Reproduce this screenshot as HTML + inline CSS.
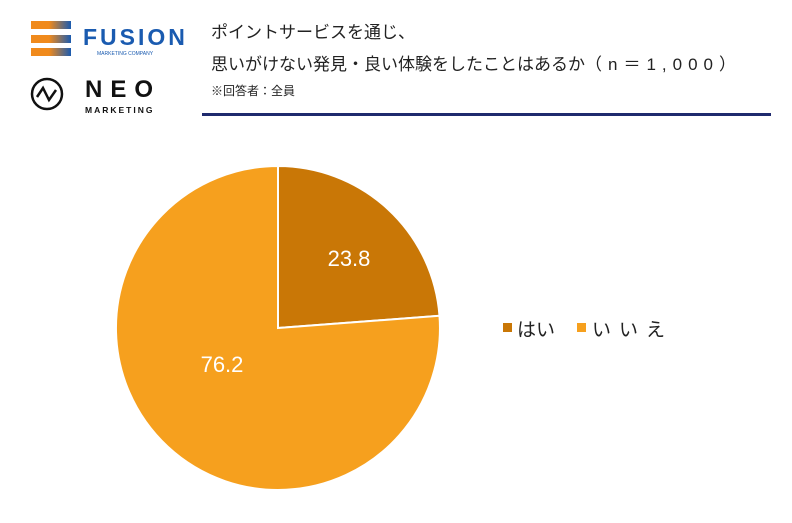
<!DOCTYPE html>
<html><head><meta charset="utf-8"><style>
body{margin:0;width:792px;height:523px;background:#fff;overflow:hidden;font-family:"Liberation Sans","Noto Sans CJK JP",sans-serif;}
.t{position:absolute;color:#222;white-space:nowrap;}
</style></head><body>
<svg width="792" height="523" style="position:absolute;left:0;top:0">
<defs><linearGradient id="g" x1="0" x2="1"><stop offset="0" stop-color="#f08a1c"/><stop offset="0.45" stop-color="#f08a1c"/><stop offset="1" stop-color="#1a5bb0"/></linearGradient></defs>
<rect x="31" y="21" width="40" height="8" fill="url(#g)"/>
<rect x="31" y="35" width="40" height="8" fill="url(#g)"/>
<rect x="31" y="48" width="40" height="8" fill="url(#g)"/>
<text x="83" y="45" font-family="Liberation Sans" font-weight="bold" font-size="23" fill="#1a5bb0" letter-spacing="3">FUSION</text>
<text x="97" y="55" font-family="Liberation Sans" font-size="5" fill="#1a5bb0">MARKETING COMPANY</text>
<circle cx="47" cy="94" r="15" fill="none" stroke="#111" stroke-width="2.5"/>
<polyline points="37,97 43,88 49,100 56,90" fill="none" stroke="#111" stroke-width="2.5"/>
<text x="85" y="97" font-family="Liberation Sans" font-weight="bold" font-size="24" fill="#111" letter-spacing="8">NEO</text>
<text x="85" y="113" font-family="Liberation Sans" font-weight="bold" font-size="8.5" fill="#111" letter-spacing="2">MARKETING</text>
<rect x="202" y="113" width="569" height="3" fill="#1f2a6e"/>
<path d="M278,328 L278,166 A162,162 0 0 1 439.5,315.8 Z" fill="#c97706" stroke="#fff" stroke-width="2"/>
<path d="M278,328 L439.5,315.8 A162,162 0 1 1 278,166 Z" fill="#f6a01e" stroke="#fff" stroke-width="2"/>
<text x="349" y="266" text-anchor="middle" font-size="22" fill="#fff" font-family="Liberation Sans">23.8</text>
<text x="222" y="372" text-anchor="middle" font-size="22" fill="#fff" font-family="Liberation Sans">76.2</text>
<rect x="503" y="323" width="9" height="9" fill="#c97706"/>
<rect x="577" y="323" width="9" height="9" fill="#f6a01e"/>
</svg>
<div class="t" style="left:211px;top:18px;font-size:17px">ポイントサービスを通じ、</div>
<div class="t" style="left:211px;top:50px;font-size:17px">思いがけない発見・良い体験をしたことはあるか<span style="letter-spacing:6px">（n＝1,000）</span></div>
<div class="t" style="left:211px;top:82px;font-size:12px">※回答者：全員</div>
<div class="t" style="left:517px;top:315px;font-size:19px">はい</div>
<div class="t" style="left:592px;top:315px;font-size:19px;letter-spacing:8px">いいえ</div>
</body></html>
